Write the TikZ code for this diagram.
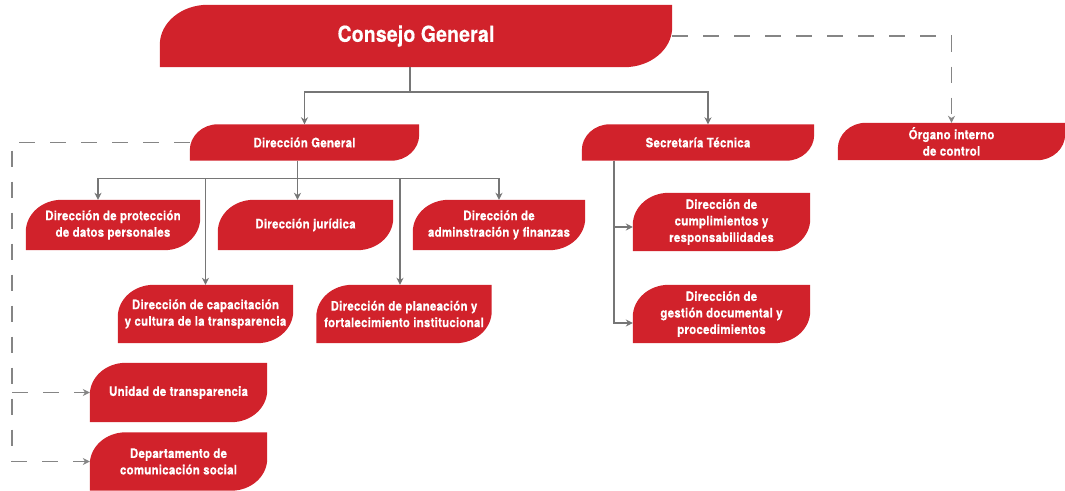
\documentclass[tikz,border=0pt]{standalone}
\usepackage{fontspec}
\setmainfont{TeX Gyre Heros}[FakeStretch=0.88, BoldFeatures={FakeBold=0.4}]
\usetikzlibrary{arrows.meta,backgrounds,calc}
\definecolor{cred}{HTML}{D1222B}
\definecolor{cline}{HTML}{767676}
\definecolor{cdash}{HTML}{858585}
\newcommand\leaffill[3]{%
  \fill[cred] (#1.south west) -- ([yshift=-#3]#1.north west)
    arc[start angle=180,end angle=90,x radius=#2,y radius=#3]
    -- (#1.north east) -- ([yshift=#3]#1.south east)
    arc[start angle=0,end angle=-90,x radius=#2,y radius=#3] -- cycle;}
\tikzset{
  box/.style={inner sep=0pt, text=white, align=center,
    font=\bfseries\fontsize{13}{16.5}\selectfont\addfontfeature{LetterSpace=2}},
  conn/.style={draw=cline, line width=1.4pt},
  arr/.style={conn, -{Stealth[length=7pt,width=7pt]}},
  dashconn/.style={draw=cdash, line width=1.5pt, dash pattern=on 16pt off 15pt},
  darr/.style={dashconn, -{Stealth[length=7pt,width=7pt]}},
}
\begin{document}
\begin{tikzpicture}[x=1pt,y=1pt]
\useasboundingbox (0,0) rectangle (1065,490);
% nodes
\node[box, minimum width=512pt, minimum height=62pt,
  font=\bfseries\fontsize{22}{26}\selectfont\addfontfeature{LetterSpace=1}] (cg) at (416,454) {Consejo General};
\node[box, minimum width=229pt, minimum height=36pt] (dg) at (304.5,347.5) {Dirección General};
\node[box, minimum width=232pt, minimum height=36pt] (st) at (698,347.5) {Secretaría Técnica};
\node[box, minimum width=227pt, minimum height=37pt] (oic) at (951.5,348.5) {Órgano interno\\de control};
\node[box, minimum width=174pt, minimum height=50pt] (dpd) at (113,265) {Dirección de protección\\de datos personales};
\node[box, minimum width=175pt, minimum height=50pt] (dj) at (305.5,265) {Dirección jurídica};
\node[box, minimum width=172pt, minimum height=50pt] (daf) at (499,265) {Dirección de\\adminstración y finanzas};
\node[box, minimum width=175pt, minimum height=58pt] (dcc) at (205.5,176) {Dirección de capacitación\\y cultura de la transparencia};
\node[box, minimum width=175pt, minimum height=58pt] (dpf) at (404,176) {Dirección de planeación y\\fortalecimiento institucional};
\node[box, minimum width=177pt, minimum height=58pt] (dcr) at (721.5,268) {Dirección de\\cumplimientos y\\responsabilidades};
\node[box, minimum width=177pt, minimum height=58pt] (dgd) at (721.5,176) {Dirección de\\gestión documental y\\procedimientos};
\node[box, minimum width=177pt, minimum height=59pt] (ut) at (178.5,97.5) {Unidad de transparencia};
\node[box, minimum width=177pt, minimum height=58pt] (dcs) at (178.5,28.5) {Departamento de\\comunicación social};
% fills
\begin{scope}[on background layer]
  \leaffill{cg}{48pt}{40pt}
  \foreach \n in {dg,st,oic}{\leaffill{\n}{28pt}{26pt}}
  \foreach \n in {dpd,dj,daf,dcc,dpf,dcr,dgd,ut,dcs}{\leaffill{\n}{36pt}{32pt}}
\end{scope}
% connectors
\coordinate (cgs) at ([xshift=-6pt]cg.south);
\draw[arr] (cgs) -- ++(0,-25) -| (dg.north);
\draw[arr] (cgs) -- ++(0,-25) -| ([xshift=10pt]st.north);
\draw[darr] (cg.east) -| (oic.north);
\coordinate (dgs) at ([xshift=-7pt]dg.south);
\coordinate (bus) at ([xshift=-7pt,yshift=-18pt]dg.south);
\draw[arr] (dgs) -- ([xshift=-8pt]dj.north);
\draw[arr] (bus) -| ([xshift=-15pt]dpd.north);
\draw[arr] (bus) -| (daf.north);
\draw[arr] (bus -| dcc.north) -- (dcc.north);
\coordinate (pf) at ([xshift=-4pt]dpf.north);
\draw[arr] (pf |- bus) -- (pf);
\coordinate (sv) at ([xshift=32pt]st.south west);
\draw[arr] (sv) |- ([yshift=-5pt]dcr.west);
\draw[arr] (sv) |- ([yshift=-9pt]dgd.west);
\coordinate (dl) at (12,0);
\draw[darr] (dg.west) -- (dg.west -| dl) -- (dcs.west -| dl) -- (dcs.west);
\draw[darr] (ut.west -| dl) -- (ut.west);
\end{tikzpicture}
\end{document}
